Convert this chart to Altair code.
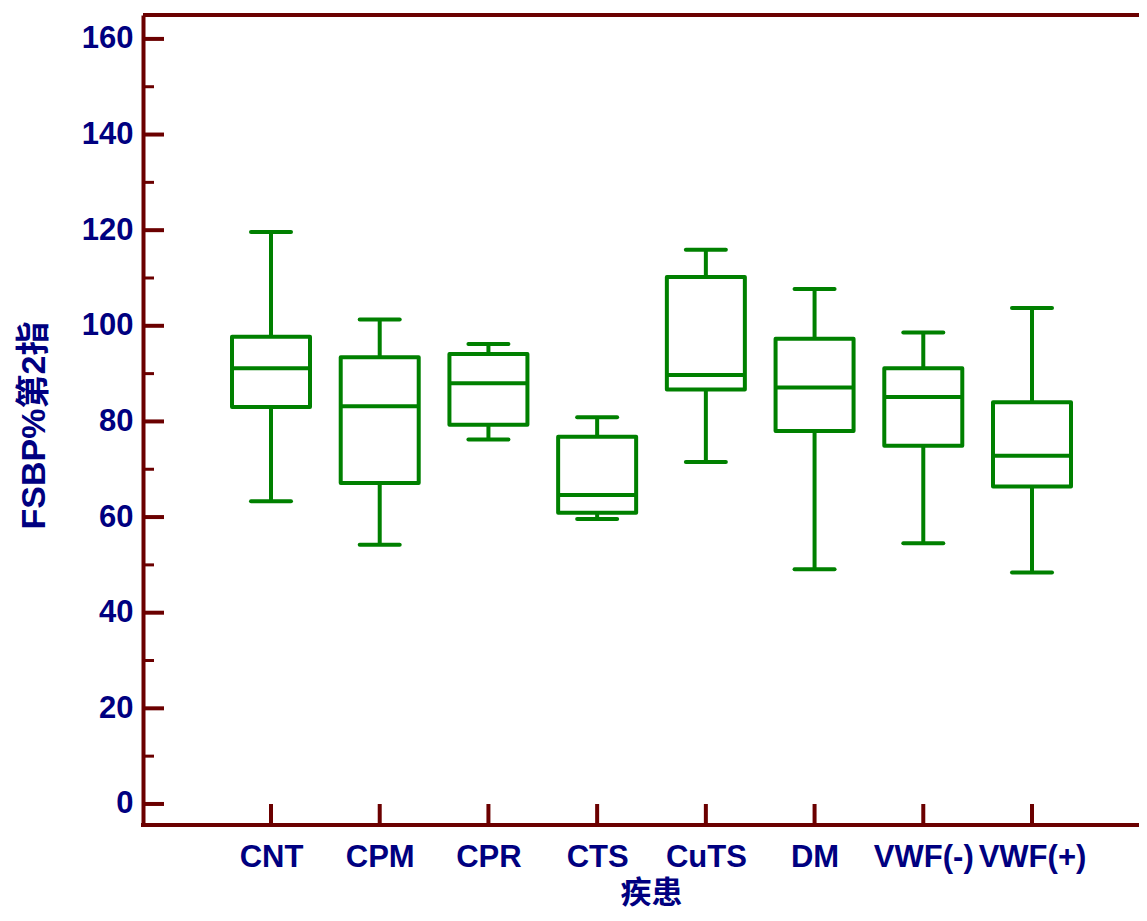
import altair as alt
import pandas as pd

categories = ["CNT", "CPM", "CPR", "CTS", "CuTS", "DM", "VWF(-)", "VWF(+)"]
lower = [63.3, 54.2, 76.2, 59.6, 71.5, 49.1, 54.5, 48.4]
q1 = [83.0, 67.1, 79.3, 60.9, 86.7, 78.0, 74.9, 66.4]
median = [91.1, 83.2, 88.0, 64.6, 89.7, 87.1, 85.1, 72.8]
q3 = [97.7, 93.4, 94.1, 76.8, 110.2, 97.3, 91.1, 84.0]
upper = [119.6, 101.3, 96.2, 80.9, 115.9, 107.7, 98.6, 103.7]

major_ticks = [0, 20, 40, 60, 80, 100, 120, 140, 160]
minor_ticks = [10, 30, 50, 70, 90, 110, 130, 150]

GREEN = "#008000"
AXIS = "#6B0000"
NAVY = "#000080"
FONT = "Liberation Sans, Arial, Noto Sans CJK SC"

W = 996
H = 810

df = pd.DataFrame({"cat": categories, "lower": lower, "q1": q1,
                   "median": median, "q3": q3, "upper": upper})
df_major = pd.DataFrame({"v": major_ticks})
df_minor = pd.DataFrame({"v": minor_ticks})

xscale = alt.Scale(domain=categories, type="point", range=[128, 889], padding=0)
yscale = alt.Scale(domain=[-4.4, 165], nice=False, zero=False)

xenc = alt.X("cat:N", scale=xscale, sort=categories,
             axis=alt.Axis(title="疾患", labelAngle=0, ticks=False, domain=False,
                           labelPadding=17, titleX=508, titleY=68,
                           titleBaseline="middle", titleAlign="center"))
yaxis = alt.Axis(title="FSBP%第2指", values=major_ticks, ticks=False, grid=False,
                 labelPadding=10, titleX=-109, titleY=410, titleAngle=270,
                 titleBaseline="middle", titleAlign="center", titleFontSize=34)

base = alt.Chart(df)

box = base.mark_rect(fill=None, fillOpacity=0, stroke=GREEN, strokeWidth=4,
                     strokeJoin="round", xOffset=-39, x2Offset=39).encode(
    x=xenc, x2="cat:N",
    y=alt.Y("q1:Q", scale=yscale, axis=yaxis), y2="q3:Q")

wlow = base.mark_rule(color=GREEN, strokeWidth=4).encode(
    x=alt.X("cat:N", scale=xscale), y=alt.Y("lower:Q", scale=yscale), y2="q1:Q")
whigh = base.mark_rule(color=GREEN, strokeWidth=4).encode(
    x=alt.X("cat:N", scale=xscale), y=alt.Y("q3:Q", scale=yscale), y2="upper:Q")
med = base.mark_rule(color=GREEN, strokeWidth=4, xOffset=-39, x2Offset=39).encode(
    x=alt.X("cat:N", scale=xscale), x2="cat:N", y=alt.Y("median:Q", scale=yscale))
caplow = base.mark_rule(color=GREEN, strokeWidth=4, strokeCap="round",
                        xOffset=-20, x2Offset=20).encode(
    x=alt.X("cat:N", scale=xscale), x2="cat:N", y=alt.Y("lower:Q", scale=yscale))
caphigh = base.mark_rule(color=GREEN, strokeWidth=4, strokeCap="round",
                         xOffset=-20, x2Offset=20).encode(
    x=alt.X("cat:N", scale=xscale), x2="cat:N", y=alt.Y("upper:Q", scale=yscale))

xticks = base.mark_rule(color=AXIS, strokeWidth=4).encode(
    x=alt.X("cat:N", scale=xscale), y=alt.value(H), y2=alt.value(H - 21))
ymajor = alt.Chart(df_major).mark_rule(color=AXIS, strokeWidth=4).encode(
    y=alt.Y("v:Q", scale=yscale), x=alt.value(0), x2=alt.value(21))
yminor = alt.Chart(df_minor).mark_rule(color=AXIS, strokeWidth=3).encode(
    y=alt.Y("v:Q", scale=yscale), x=alt.value(0), x2=alt.value(11))
topline = alt.Chart(df_major).mark_rule(color=AXIS, strokeWidth=4).encode(
    y=alt.value(0), x=alt.value(0), x2=alt.value(W))
bottomline = alt.Chart(df_major).mark_rule(color=AXIS, strokeWidth=4).encode(
    y=alt.value(H), x=alt.value(-2), x2=alt.value(W))

chart = alt.layer(box, wlow, whigh, med, caplow, caphigh,
                  xticks, ymajor, yminor, topline, bottomline).properties(
    width=W, height=H,
    autosize=alt.AutoSizeParams(type="none"),
    padding={"left": 135, "top": 7, "right": 0, "bottom": 88},
).configure_view(stroke=None).configure_axis(
    domainColor=AXIS, domainWidth=4,
    labelColor=NAVY, labelFont=FONT, labelFontSize=31, labelFontWeight="bold",
    titleColor=NAVY, titleFont=FONT, titleFontSize=31, titleFontWeight="bold",
)

chart.save("out.html", embed_options={"renderer": "svg", "actions": False})
